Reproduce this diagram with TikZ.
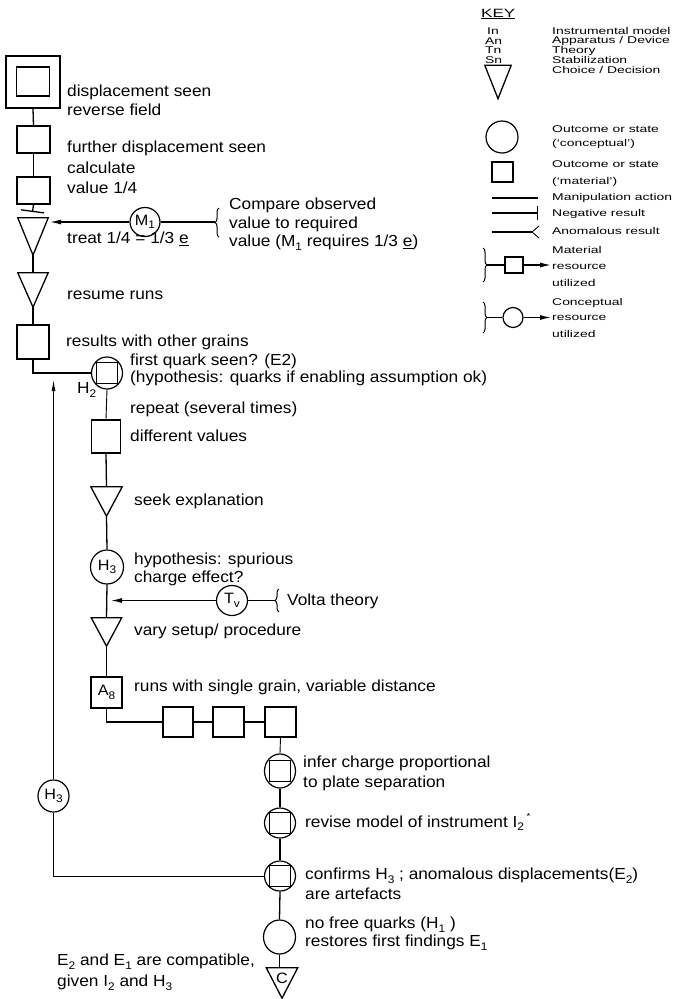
\documentclass[tikz,border=0pt]{standalone}
\usepackage{fontspec}
\setmainfont{Liberation Sans}[FakeStretch=1.08]
\newfontfamily\keyfont{Liberation Sans}[FakeStretch=1.42]
\usetikzlibrary{arrows.meta,shapes.geometric,decorations.pathreplacing}
\newcommand\sub[1]{\raisebox{-0.45ex}{\fontsize{11}{11}\selectfont #1}}
% downward triangle (choice / decision) drawn on an invisible named box
\newcommand\tri[5][]{%
  \node[inner sep=0pt, minimum width=#4pt, minimum height=#5pt] (#2) at #3 {#1};
  \draw[line, line join=miter] (#2.north west) -- (#2.north east) -- (#2.south) -- cycle;}
% circle with a square inside (outcome both conceptual and material)
\newcommand\cs[4]{%
  \node[circ, minimum width=#3pt, minimum height=#4pt] (#1) at #2 {};
  \node[draw, line width=1.2pt, minimum size=21pt, inner sep=0pt] at (#1.center) {};}
\begin{document}
\begin{tikzpicture}[x=1pt,y=-1pt,
  line/.style={line width=1.3pt},
  thinline/.style={line width=0.9pt},
  txt/.style={anchor=west, inner sep=0pt, font=\fontsize{16}{16}\selectfont},
  ktxt/.style={anchor=west, inner sep=0pt, font=\keyfont\fontsize{9.8}{9.8}\selectfont},
  box/.style={draw, line width=1.2pt, inner sep=0pt, minimum width=32pt, minimum height=30pt, font=\fontsize{15}{15}\selectfont},
  circ/.style={draw, ellipse, line width=1.2pt, inner sep=0pt, minimum width=30pt, minimum height=32pt, font=\fontsize{15}{15}\selectfont},
  arr/.style={-{Latex[length=11pt,width=5pt]}, line width=1.2pt},
  brc/.style={decorate, decoration={brace, amplitude=4pt}, line width=1pt}]
\useasboundingbox[fill=white] (0,0) rectangle (675,999);

% ---------------- key ----------------
\node[anchor=west, inner sep=0pt, font=\keyfont\fontsize{12}{12}\selectfont] (keyhead) at (481,14) {\underline{KEY}};
\node[ktxt] (kI) at (487,31) {In};
\node[ktxt] (kA) at (485,40.75) {An};
\node[ktxt] (kT) at (485,50.5) {Tn};
\node[ktxt] (kS) at (485,60.25) {Sn};
\node[ktxt] (kl1) at (552,31) {Instrumental model};
\node[ktxt] (kl2) at (552,40.75) {Apparatus / Device};
\node[ktxt] (kl3) at (552,50.5) {Theory};
\node[ktxt] (kl4) at (552,60.25) {Stabilization};
\node[ktxt] (kl5) at (552,70) {Choice / Decision};
\tri{ktri}{(498,82)}{26}{33}
\node[circ, minimum width=32pt, minimum height=32pt] (kcirc) at (502,137) {};
\node[ktxt] (kl6) at (552,129) {Outcome or state};
\node[ktxt] (kl7) at (552,144) {(‘conceptual’)};
\node[box, minimum width=21pt, minimum height=20pt] (ksq) at (502.5,172) {};
\node[ktxt] (kl8) at (552,164) {Outcome or state};
\node[ktxt] (kl9) at (552,182) {(‘material’)};
\coordinate (km1) at (492,198); \coordinate (km2) at (538,198);
\draw[line] (km1) -- (km2);
\node[ktxt] (kl10) at (552,198) {Manipulation action};
\coordinate (kn1) at (492,213); \coordinate (kn2) at (538,213);
\draw[line, -{Bar[width=14pt,line width=1pt]}] (kn1) -- (kn2);
\node[ktxt] (kl11) at (552,213.5) {Negative result};
\coordinate (ka1) at (492,232); \coordinate (ka2) at (532,232);
\draw[line] (ka1) -- (ka2);
\draw[line width=0.9pt] (ka2) ++(7,-6) -- (ka2) -- ++(7,6);
\node[ktxt] (kl12) at (552,231) {Anomalous result};
% material resource
\draw[brc] (483,248) -- (483,282);
\coordinate (kmb) at (487,265);
\node[box, minimum width=18pt, minimum height=16pt] (kmsq) at (514,265) {};
\coordinate (kma) at (551,265);
\draw[line] (kmb) -- (kmsq.west);
\draw[arr] (kmsq.east) -- (kma);
\node[ktxt] (kl13) at (552,250) {Material};
\node[ktxt] (kl14) at (552,267) {resource};
\node[ktxt] (kl15) at (552,283) {utilized};
% conceptual resource
\draw[brc] (483,302) -- (483,333);
\coordinate (kcb) at (487,317.5);
\node[circ, minimum width=20pt, minimum height=20pt] (kccirc) at (513,317.5) {};
\coordinate (kca) at (551,317.5);
\draw[line] (kcb) -- (kccirc.west);
\draw[arr] (kccirc.east) -- (kca);
\node[ktxt] (kl16) at (552,303) {Conceptual};
\node[ktxt] (kl17) at (552,318) {resource};
\node[ktxt] (kl18) at (552,334) {utilized};

% ---------------- first trunk ----------------
\node[box, minimum width=54pt, minimum height=52pt] (obs1) at (33,82) {};
\node[box, minimum width=33pt, minimum height=29pt] (obs1in) at (33,81.5) {};
\node[txt] (t_obs1a) at (67,92) {displacement seen};
\node[txt] (t_obs1b) at (67,110) {reverse field};
\node[box, minimum width=33pt, minimum height=27pt] (b2) at (33.5,139.5) {};
\node[txt] (t_b2a) at (67,148) {further displacement seen};
\node[txt] (t_b2b) at (67,168) {calculate};
\node[box, minimum width=33pt, minimum height=27pt] (b3) at (33.5,190.5) {};
\node[txt] (t_b3) at (67,188) {value 1/4};
\coordinate (neg1) at (32.5,212);
\draw[line] (obs1.south) -- (b2.north);
\draw[line] (b2.south) -- (b3.north);
\draw[line, -{Bar[width=23pt,line width=1.3pt]}] (b3.south) -- (neg1);

\tri{t1}{(33,236.5)}{30}{37}
\node[txt] (t_t1) at (67,239) {treat 1/4 = 1/3 \underline{e}};
\node[circ, minimum width=30pt, minimum height=29pt] (M1) at (145,222) {M\sub{1}};
\coordinate (m1tip) at (50,222);
\coordinate (m1brace) at (215,222);
\draw[arr] (M1.west) -- (m1tip);
\draw[line] (M1.east) -- (m1brace);
\draw[brc] (219,237) -- (219,208);
\node[txt] (t_m1a) at (229,205) {Compare observed};
\node[txt] (t_m1b) at (229,224) {value to required};
\node[txt] (t_m1c) at (229,243) {value (M\sub{1} requires 1/3 \underline{e})};

\tri{t2}{(33,290)}{30}{34}
\node[txt] (t_t2) at (67,295) {resume runs};
\draw[line] (t1.south) -- (t2.north);
\node[box, minimum width=32pt, minimum height=34pt] (b4) at (33,342) {};
\node[txt] (t_b4) at (66,342) {results with other grains};
\draw[line] (t2.south) -- (b4.north);

% ---------------- second trunk ----------------
\cs{H2}{(107,373)}{31}{32}
\coordinate (j1) at (33,373);
\draw[line] (b4.south) -- (j1) -- (H2.west);
\node[txt] (t_H2) at (77,390) {H\sub{2}};
\node[txt] (t_H2a) at (130,361) {first quark seen? (E2)};
\node[txt] (t_H2b) at (130,378) {(hypothesis: quarks if enabling assumption ok)};
\node[txt] (t_rep) at (130,409) {repeat (several times)};
\node[box, minimum width=29pt, minimum height=33pt] (b5) at (106,436.5) {};
\node[txt] (t_b5) at (130,436) {different values};
\draw[thinline] (H2.south) -- (b5.north);

\tri{t3}{(106.5,501.5)}{31}{29}
\node[txt] (t_t3) at (134,501) {seek explanation};
\draw[line] (b5.south) -- (t3.north);

\node[circ, minimum width=33pt, minimum height=34pt] (H3) at (107,567) {H\sub{3}};
\node[txt] (t_H3a) at (134,560) {hypothesis: spurious};
\node[txt] (t_H3b) at (134,578) {charge effect?};
\draw[line] (t3.south) -- (H3.north);

\node[circ, minimum width=31pt, minimum height=30pt] (Tv) at (232,600.5) {T\sub{v}};
\coordinate (tvtip) at (111,600.5);
\coordinate (tvbrace) at (275,600.5);
\draw[arr] (Tv.west) -- (tvtip);
\draw[line] (Tv.east) -- (tvbrace);
\draw[brc] (279,612) -- (279,589);
\node[txt] (t_Tv) at (287,601) {Volta theory};

\tri{t4}{(106.5,632)}{30}{28}
\node[txt] (t_t4) at (134,631) {vary setup/ procedure};
\draw[line] (H3.south) -- (t4.north);

\node[box, minimum width=31pt, minimum height=31pt] (A8) at (106.5,692.5) {A\sub{8}};
\node[txt] (t_A8) at (134,687) {runs with single grain, variable distance};
\draw[line] (t4.south) -- (A8.north);

\node[box, minimum width=30pt, minimum height=30pt] (b6) at (178,722) {};
\node[box, minimum width=31pt, minimum height=30pt] (b7) at (228.5,722) {};
\node[box, minimum width=31pt, minimum height=30pt] (b8) at (280.5,722) {};
\coordinate (j2) at (106.5,722);
\draw[line] (A8.south) -- (j2) -- (b6.west);
\draw[line] (b6.east) -- (b7.west);
\draw[line] (b7.east) -- (b8.west);

% ---------------- third trunk ----------------
\cs{C1}{(280,771)}{31}{34}
\node[txt] (t_C1a) at (303,763) {infer charge proportional};
\node[txt] (t_C1b) at (303,783) {to plate separation};
\draw[thinline] (b8.south) -- (C1.north);

\cs{C2}{(280,823)}{31}{30}
\node[txt] (t_C2) at (305,822) {revise model of instrument I\sub{2}\,\raisebox{0.9ex}{\fontsize{9}{9}\selectfont *}};
\draw[line] (C1.south) -- (C2.north);

\cs{C3}{(280,876)}{31}{30}
\node[txt] (t_C3a) at (305,876) {confirms H\sub{3} ; anomalous displacements(E\sub{2})};
\node[txt] (t_C3b) at (305,894) {are artefacts};
\draw[line] (C2.south) -- (C3.north);

\node[circ, minimum width=32pt, minimum height=34pt] (C4) at (279.5,937) {};
\node[txt] (t_C4a) at (305,925) {no free quarks (H\sub{1} )};
\node[txt] (t_C4b) at (305,943) {restores first findings E\sub{1}};
\draw[line] (C3.south) -- (C4.north);

\tri[\raisebox{9pt}{\fontsize{15}{15}\selectfont C}]{tC}{(282,983)}{31}{30}
\draw[line] (C4.south) -- (tC.north -| C4.south);
\node[txt] (t_tCa) at (57,962) {E\sub{2} and E\sub{1} are compatible,};
\node[txt] (t_tCb) at (57,983) {given I\sub{2} and H\sub{3}};

% ---------------- feedback from H3 ----------------
\node[circ, minimum width=31pt, minimum height=32pt] (H3b) at (53.5,796) {H\sub{3}};
\coordinate (fbtip) at (53.5,380);
\coordinate (j3) at (53.5,876);
\draw[thinline, -{Latex[length=11pt,width=4pt]}] (H3b.north) -- (fbtip);
\draw[thinline] (H3b.south) -- (j3) -- (C3.west);
\end{tikzpicture}
\end{document}
